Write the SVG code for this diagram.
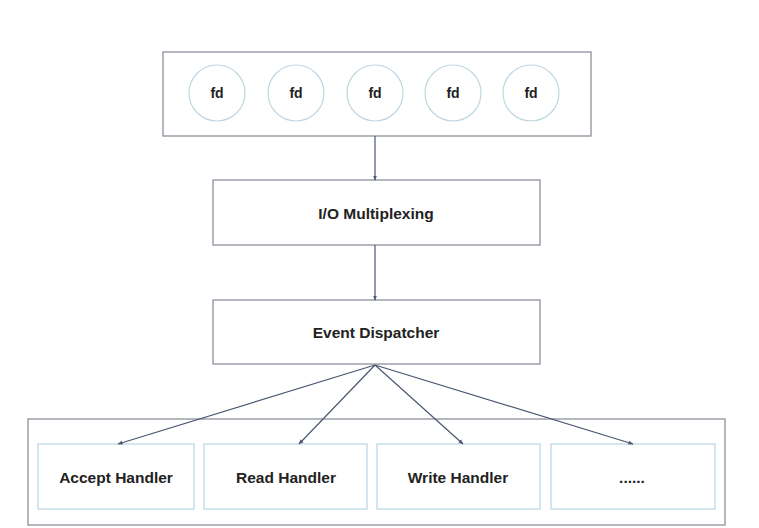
<svg xmlns="http://www.w3.org/2000/svg" width="759" height="528" viewBox="0 0 759 528">
<defs>
<style>
.outer{fill:#fff;stroke:#8c929c;stroke-width:1.3}
.inner{fill:#fff;stroke:#bcd9e6;stroke-width:1.3}
.circ{fill:#fff;stroke:#bfd6e0;stroke-width:1.2}
.lbl{font-family:"Liberation Sans",Arial,sans-serif;font-weight:bold;font-size:15.5px;fill:#222;text-anchor:middle}
.fd{font-family:"Liberation Sans",Arial,sans-serif;font-weight:bold;font-size:14px;fill:#222;text-anchor:middle}
.conn{stroke:#4a5870;stroke-width:1.2;fill:none;marker-end:url(#ah)}
</style>
<marker id="ah" viewBox="0 0 10 10" refX="9" refY="5" markerWidth="5" markerHeight="5" orient="auto" markerUnits="userSpaceOnUse">
<path d="M0,1 L10,5 L0,9 z" fill="#4a5870"/>
</marker>
</defs>
<rect width="759" height="528" fill="#fff"/>
<g id="fd-group">
<rect class="outer" x="163" y="52" width="428" height="84"/>
<g id="fd1"><circle class="circ" cx="217" cy="93" r="28"/><text class="fd" x="217" y="98">fd</text></g>
<g id="fd2"><circle class="circ" cx="296" cy="93" r="28"/><text class="fd" x="296" y="98">fd</text></g>
<g id="fd3"><circle class="circ" cx="375" cy="93" r="28"/><text class="fd" x="375" y="98">fd</text></g>
<g id="fd4"><circle class="circ" cx="453" cy="93" r="28"/><text class="fd" x="453" y="98">fd</text></g>
<g id="fd5"><circle class="circ" cx="531" cy="93" r="28"/><text class="fd" x="531" y="98">fd</text></g>
</g>
<g id="io">
<rect class="outer" x="213" y="180" width="327" height="65"/>
<text class="lbl" x="376" y="219">I/O Multiplexing</text>
</g>
<g id="dispatcher">
<rect class="outer" x="213" y="300" width="327" height="64"/>
<text class="lbl" x="376" y="338">Event Dispatcher</text>
</g>
<g id="handlers">
<rect class="outer" x="28" y="419" width="697" height="106"/>
<g id="accept"><rect class="inner" x="38" y="444" width="156" height="65"/><text class="lbl" x="116" y="483">Accept Handler</text></g>
<g id="read"><rect class="inner" x="204" y="444" width="163" height="65"/><text class="lbl" x="286" y="483">Read Handler</text></g>
<g id="write"><rect class="inner" x="377" y="444" width="163" height="65"/><text class="lbl" x="458" y="483">Write Handler</text></g>
<g id="more"><rect class="inner" x="551" y="444" width="164" height="65"/><text class="lbl" x="632" y="483">......</text></g>
</g>
<g id="connectors">
<line class="conn" x1="375" y1="136" x2="375" y2="180"/>
<line class="conn" x1="375" y1="245" x2="375" y2="300"/>
<line class="conn" x1="375" y1="365" x2="118" y2="444"/>
<line class="conn" x1="375" y1="365" x2="299" y2="444"/>
<line class="conn" x1="375" y1="365" x2="463" y2="444"/>
<line class="conn" x1="375" y1="365" x2="633" y2="444"/>
</g>
</svg>
